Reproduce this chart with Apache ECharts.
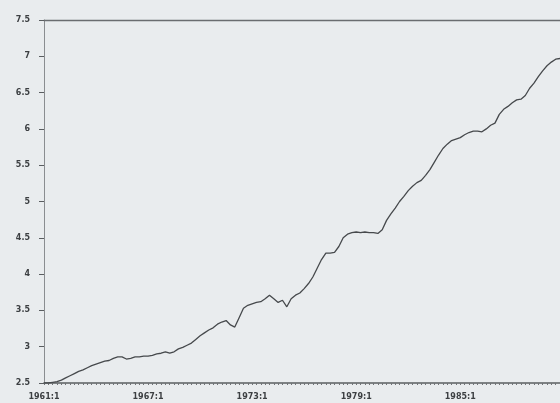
<!DOCTYPE html>
<html>
<head>
<meta charset="utf-8">
<script src="https://cdn.jsdelivr.net/npm/echarts@6/dist/echarts.min.js"></script>
<style>
html,body{margin:0;padding:0;background:#e9ecee;}
#c{width:560px;height:403px;}
</style>
</head>
<body>
<div id="c"></div>
<script>
const startYear = 1961;
const endYear = 1990;
const quarters = [];
for (let y = startYear; y <= endYear; y++) {
  for (let q = 1; q <= 4; q++) quarters.push(y + ':' + q);
}
const values = [
  2.50, 2.50, 2.51, 2.52, 2.54, 2.57, 2.60, 2.63, 2.66, 2.68,
  2.71, 2.74, 2.76, 2.78, 2.80, 2.81, 2.84, 2.86, 2.86, 2.83,
  2.84, 2.86, 2.86, 2.87, 2.87, 2.88, 2.90, 2.91, 2.93, 2.91,
  2.93, 2.97, 2.99, 3.02, 3.05, 3.10, 3.15, 3.19, 3.23, 3.26,
  3.31, 3.34, 3.36, 3.30, 3.27, 3.40, 3.53, 3.57, 3.59, 3.61,
  3.62, 3.66, 3.71, 3.66, 3.61, 3.64, 3.55, 3.66, 3.71, 3.74,
  3.80, 3.87, 3.96, 4.08, 4.20, 4.29, 4.29, 4.30, 4.38, 4.50,
  4.55, 4.57, 4.58, 4.57, 4.58, 4.57, 4.57, 4.56, 4.61, 4.74,
  4.83, 4.91, 5.00, 5.07, 5.15, 5.21, 5.26, 5.29, 5.36, 5.44,
  5.54, 5.64, 5.73, 5.79, 5.84, 5.86, 5.88, 5.92, 5.95, 5.97,
  5.97, 5.96, 6.00, 6.05, 6.08, 6.20, 6.27, 6.31, 6.36, 6.40,
  6.41, 6.46, 6.56, 6.63, 6.72, 6.80, 6.87, 6.92, 6.96, 6.97
];
const yMin = 2.5, yMax = 7.5, yStep = 0.5;

const chart = echarts.init(document.getElementById('c'), null, {renderer: 'canvas'});
const axisColor = '#5a5d60';
const labelStyle = {color: '#3c3f42', fontFamily: 'DejaVu Sans', fontSize: 8, fontWeight: 'bold'};
chart.setOption({
  backgroundColor: '#e9ecee',
  animation: false,
  grid: {left: 44, right: 0, top: 20, bottom: 20, containLabel: false},
  xAxis: [{
    type: 'category',
    data: quarters,
    boundaryGap: false,
    axisLine: {lineStyle: {color: axisColor, width: 1.6}},
    axisTick: {show: true, interval: 0, length: 2, inside: false, lineStyle: {color: '#707376'}},
    axisLabel: Object.assign({interval: 23, margin: 10}, labelStyle),
    splitLine: {show: false}
  }, {
    type: 'category',
    data: quarters,
    position: 'top',
    boundaryGap: false,
    axisLine: {show: true, lineStyle: {color: '#6a6d70', width: 1.3}},
    axisTick: {show: false},
    axisLabel: {show: false}
  }],
  yAxis: {
    type: 'value',
    min: yMin, max: yMax, interval: yStep,
    axisLine: {show: true, lineStyle: {color: '#8a8d90', width: 1}},
    axisTick: {show: true, length: 5, lineStyle: {color: axisColor}},
    axisLabel: Object.assign({margin: 14}, labelStyle),
    splitLine: {show: false}
  },
  series: [{
    type: 'line',
    data: values,
    xAxisIndex: 0,
    symbol: 'none',
    smooth: false,
    lineStyle: {color: '#46494c', width: 1.3}
  }]
});
</script>
</body>
</html>
